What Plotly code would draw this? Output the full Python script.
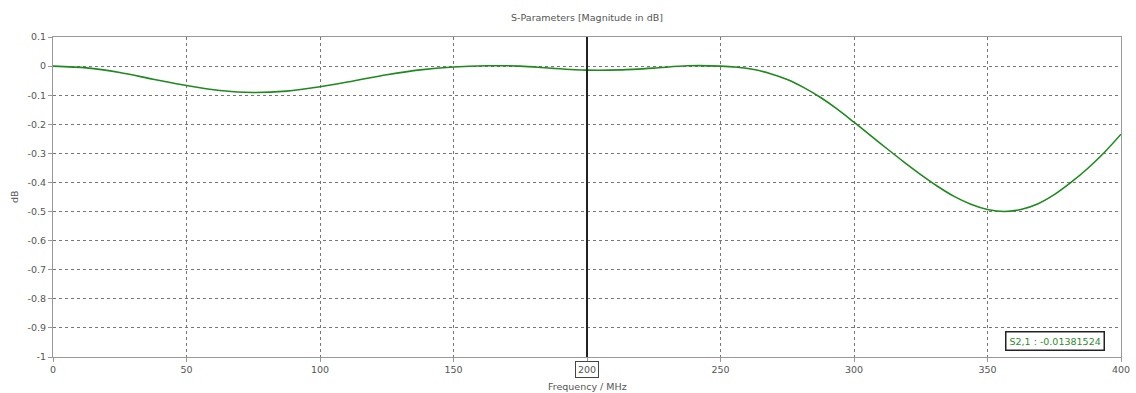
import plotly.graph_objects as go

freq_mhz = [0, 12.5, 25, 37.5, 50, 62.5, 75, 87.5, 100, 112.5, 125, 137.5, 150, 162.5, 175,
            187.5, 200, 212.5, 225, 237.5, 250, 256.25, 262.5, 268.75, 275, 281.25, 287.5,
            293.75, 300, 306.25, 312.5, 318.75, 325, 331.25, 337.5, 343.75, 350, 356.25,
            362.5, 368.75, 375, 381.25, 387.5, 393.75, 400]
s21_db = [0, -0.006, -0.022, -0.045, -0.067, -0.084, -0.091, -0.086, -0.071, -0.051, -0.030,
          -0.013, -0.003, 0.001, 0.0, -0.008, -0.0138, -0.013, -0.007, 0.001, 0.0, -0.004,
          -0.012, -0.026, -0.046, -0.074, -0.108, -0.148, -0.193, -0.239, -0.285, -0.330,
          -0.373, -0.413, -0.448, -0.475, -0.493, -0.500, -0.493, -0.474, -0.442, -0.400,
          -0.352, -0.297, -0.234]
x_ticks = [0, 50, 100, 150, 200, 250, 300, 350, 400]
x_ticktext = ["0", "50", "100", "150", "", "250", "300", "350", "400"]
y_ticks = [0.1, 0, -0.1, -0.2, -0.3, -0.4, -0.5, -0.6, -0.7, -0.8, -0.9, -1]
y_ticktext = ["0.1", "0", "-0.1", "-0.2", "-0.3", "-0.4", "-0.5", "-0.6", "-0.7", "-0.8", "-0.9", "-1"]
marker_x = 200
marker_label = "S2,1 : -0.01381524"

font = "DejaVu Sans"
grey = "#555555"
fig = go.Figure()
fig.add_trace(go.Scatter(x=freq_mhz, y=s21_db, mode="lines",
                         line=dict(color="#1e8a1e", width=1.6, shape="spline", smoothing=0.8),
                         hoverinfo="skip", showlegend=False))

fig.add_shape(type="line", xref="x", yref="paper", x0=marker_x, x1=marker_x, y0=0, y1=1,
              line=dict(color="#222222", width=2))

fig.add_annotation(xref="x", yref="paper", x=marker_x, y=0, yanchor="top", yshift=-4,
                   text="200", showarrow=False, font=dict(family=font, size=9.5, color=grey),
                   bordercolor="#444444", borderwidth=1, borderpad=2, bgcolor="white")

fig.add_annotation(xref="paper", yref="paper", x=0.985, y=0.018, xanchor="right", yanchor="bottom",
                   text=marker_label, showarrow=False,
                   font=dict(family=font, size=9.5, color="#2e8b2e"),
                   bordercolor="#222222", borderwidth=1.5, borderpad=3, bgcolor="white")

# axis titles as fixed-position text
fig.add_annotation(xref="paper", yref="paper", x=0.5, y=0, yanchor="top", yshift=-22,
                   text="Frequency / MHz", showarrow=False,
                   font=dict(family=font, size=9.5, color=grey))
fig.add_annotation(xref="paper", yref="paper", x=0, y=0.5, xanchor="center", xshift=-39,
                   text="dB", textangle=-90, showarrow=False,
                   font=dict(family=font, size=9.5, color=grey))

axis_common = dict(showline=True, linecolor="#999999", linewidth=1, mirror=True,
                   ticks="outside", ticklen=4, tickcolor="#999999",
                   showgrid=True, gridcolor="#777777", griddash="dot", gridwidth=1,
                   zeroline=False, automargin=False,
                   tickfont=dict(family=font, size=9.5, color=grey))

fig.update_layout(
    width=1136, height=393,
    margin=dict(l=53, r=15, t=37, b=36, autoexpand=False),
    paper_bgcolor="white", plot_bgcolor="white",
    title=dict(text="S-Parameters [Magnitude in dB]", x=0.5167, xanchor="center", y=0.955,
               yanchor="middle", font=dict(family=font, size=9.5, color=grey)),
    xaxis=dict(range=[0, 400], tickvals=x_ticks, ticktext=x_ticktext, **axis_common),
    yaxis=dict(range=[-1, 0.1], tickvals=y_ticks, ticktext=y_ticktext, **axis_common),
)

fig.write_html("out.html")
